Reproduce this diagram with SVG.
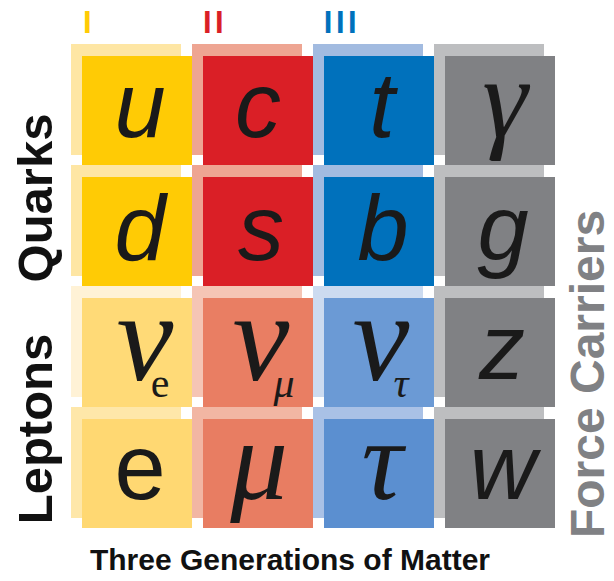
<svg xmlns="http://www.w3.org/2000/svg" width="614" height="581" viewBox="0 0 614 581">
<style>
.sans{font-family:"Liberation Sans",Arial,sans-serif;font-style:italic;font-size:92px;fill:#1a1a1a;text-anchor:middle}
.up{font-style:normal}
.ser{font-family:"Liberation Serif","Times New Roman",serif;font-style:italic;font-size:115px;fill:#1a1a1a;text-anchor:middle}
.nu{font-size:128px}
.sub{font-family:"Liberation Serif","Times New Roman",serif;font-size:42px;fill:#1a1a1a;text-anchor:middle}
.lbl{font-family:"Liberation Sans",Arial,sans-serif;font-weight:bold;font-size:49px;fill:#111;text-anchor:middle}
.gen{font-family:"Liberation Sans",Arial,sans-serif;font-weight:bold;font-size:31px;text-anchor:middle;letter-spacing:3.5px}
</style>
<rect width="614" height="581" fill="#ffffff"/>
<!-- generation numerals -->
<text class="gen" x="89" y="33" fill="#FFCB05">I</text>
<text class="gen" x="215" y="33" fill="#DA1F26">II</text>
<text class="gen" x="342" y="33" fill="#0071BC">III</text>

<!-- row 1 -->
<g id="u"><rect x="71" y="44" width="110" height="111" fill="#FEE6A4"/><rect x="82" y="56" width="110" height="109" fill="#FFCB05"/><text class="sans" x="140" y="137">u</text></g>
<g id="c"><rect x="192" y="44" width="110" height="111" fill="#EEA592"/><rect x="203" y="56" width="110" height="109" fill="#DA1F26"/><text class="sans" x="258" y="137">c</text></g>
<g id="t"><rect x="313" y="44" width="110" height="111" fill="#A2BBE0"/><rect x="324" y="56" width="110" height="109" fill="#0071BC"/><text class="sans" x="382" y="137">t</text></g>
<g id="gamma"><rect x="434" y="44" width="110" height="111" fill="#BDBEC0"/><rect x="445" y="56" width="110" height="109" fill="#808184"/><text class="ser" x="505" y="137">γ</text></g>

<!-- row 2 -->
<g id="d"><rect x="71" y="165" width="110" height="111" fill="#FEE6A4"/><rect x="82" y="177" width="110" height="109" fill="#FFCB05"/><text class="sans" x="140" y="260">d</text></g>
<g id="s"><rect x="192" y="165" width="110" height="111" fill="#EEA592"/><rect x="203" y="177" width="110" height="109" fill="#DA1F26"/><text class="sans" x="261" y="260">s</text></g>
<g id="b"><rect x="313" y="165" width="110" height="111" fill="#A2BBE0"/><rect x="324" y="177" width="110" height="109" fill="#0071BC"/><text class="sans" x="383" y="260">b</text></g>
<g id="g"><rect x="434" y="165" width="110" height="111" fill="#BDBEC0"/><rect x="445" y="177" width="110" height="109" fill="#808184"/><text class="sans" x="503" y="260">g</text></g>

<!-- row 3 -->
<g id="nu_e"><rect x="71" y="286" width="110" height="111" fill="#FFF2D6"/><rect x="82" y="298" width="110" height="109" fill="#FFDA77"/><text class="ser nu" x="145" y="380">ν</text><text class="sub" x="160" y="397">e</text></g>
<g id="nu_mu"><rect x="192" y="286" width="110" height="111" fill="#F5C5B5"/><rect x="203" y="298" width="110" height="109" fill="#E97E63"/><text class="ser nu" x="261" y="380">ν</text><text class="sub" x="284" y="397" font-style="italic">μ</text></g>
<g id="nu_tau"><rect x="313" y="286" width="110" height="111" fill="#CCDBF0"/><rect x="324" y="298" width="110" height="109" fill="#6B9AD5"/><text class="ser nu" x="381" y="380">ν</text><text class="sub" x="401" y="397" font-style="italic">τ</text></g>
<g id="z"><rect x="434" y="286" width="110" height="111" fill="#BDBEC0"/><rect x="445" y="298" width="110" height="109" fill="#808184"/><text class="sans" x="502" y="379">z</text></g>

<!-- row 4 -->
<g id="e"><rect x="71" y="407" width="110" height="111" fill="#FEE7A9"/><rect x="82" y="419" width="110" height="109" fill="#FFD872"/><text class="sans up" x="140" y="499">e</text></g>
<g id="mu"><rect x="192" y="407" width="110" height="111" fill="#F2B6A3"/><rect x="203" y="419" width="110" height="109" fill="#E87D62"/><text class="ser" x="259" y="499">μ</text></g>
<g id="tau"><rect x="313" y="407" width="110" height="111" fill="#A9C1E6"/><rect x="324" y="419" width="110" height="109" fill="#5B8FD0"/><text class="ser" x="382" y="499">τ</text></g>
<g id="w"><rect x="434" y="407" width="110" height="111" fill="#BDBEC0"/><rect x="445" y="419" width="110" height="109" fill="#808184"/><text class="sans" x="503" y="499">w</text></g>

<g id="connectors"></g>

<!-- labels -->
<text class="lbl" transform="translate(52,198) rotate(-90)">Quarks</text>
<text class="lbl" transform="translate(52,429) rotate(-90)">Leptons</text>
<text class="lbl" transform="translate(604,374) rotate(-90)" style="fill:#808184;font-size:48px">Force Carriers</text>
<text x="290" y="570" font-family="'Liberation Sans',Arial,sans-serif" font-weight="bold" font-size="30" fill="#111" text-anchor="middle">Three Generations of Matter</text>
</svg>
